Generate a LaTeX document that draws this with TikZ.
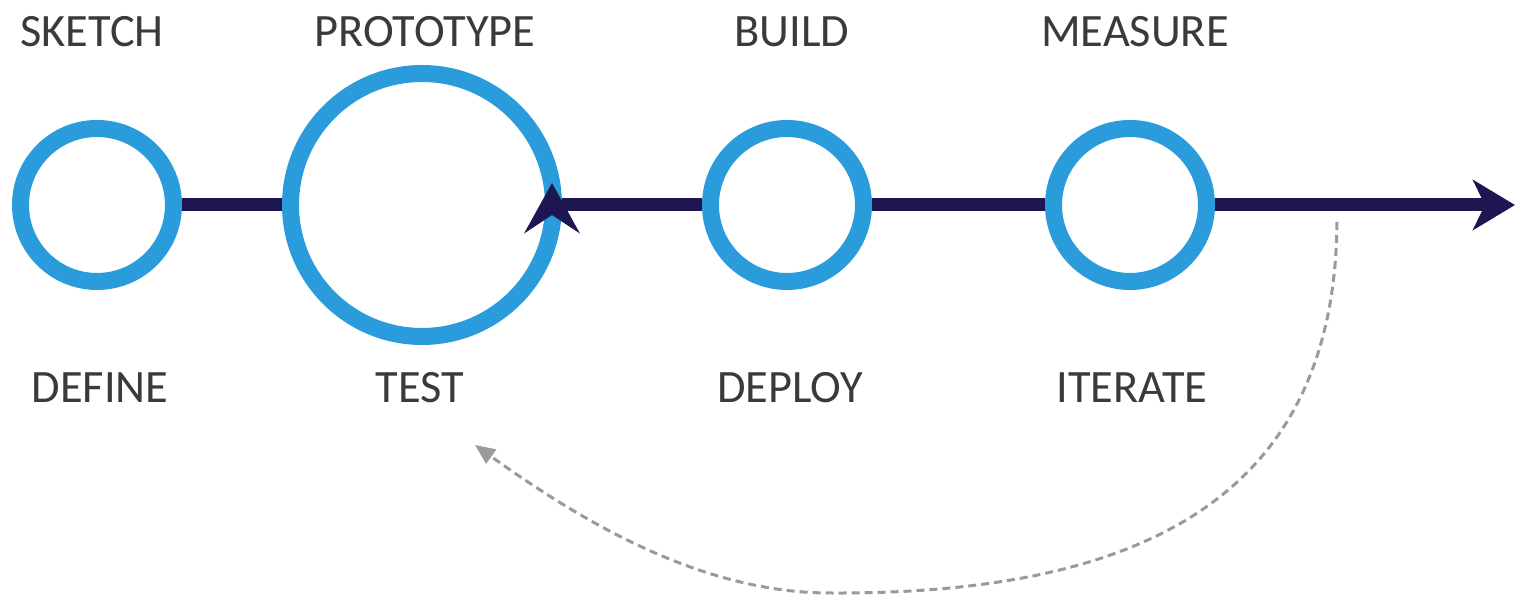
\documentclass[tikz,border=0pt]{standalone}
\usepackage{fontspec}
\setmainfont{Carlito}
\usetikzlibrary{positioning,arrows.meta}

\definecolor{ringblue}{HTML}{2A9BDB}
\definecolor{navy}{HTML}{1E1650}
\definecolor{txtgray}{HTML}{3A3A3A}
\definecolor{dashgray}{HTML}{9A9A9A}

\begin{document}
\begin{tikzpicture}[
    ring/.style={draw=ringblue, fill=white, circle, line width=0.17cm, inner sep=0pt, outer sep=0.085cm},
    small/.style={ring, minimum size=1.53cm},
    big/.style={ring, minimum size=2.63cm},
    mainline/.style={draw=navy, line width=0.13cm},
    lbl/.style={text=txtgray, font=\fontsize{13.2}{15}\selectfont, inner sep=0pt},
    loopback/.style={draw=dashgray, line width=0.03cm, dash pattern=on 0.08cm off 0.05cm}
  ]
  \useasboundingbox (0,0) rectangle (15.29,5.98);

  % stages
  \node[small] (define)  at (0.97,3.93) {};
  \node[big]   (proto)   at (4.22,3.93) {};
  \node[small] (build)   at (7.87,3.93) {};
  \node[small] (measure) at (11.30,3.93) {};
  \coordinate (end) at (15.15,3.93);

  \draw[mainline] (define) -- (proto);
  \draw[mainline] (proto) -- (build);
  \draw[mainline] (build) -- (measure);
  \draw[mainline, -{Stealth[length=0.42cm, width=0.5cm, inset=0.12cm]}] (measure) -- (end);

  % arrow tip riding on the prototype ring
  \draw[draw=ringblue, line width=0.17cm, -{Stealth[navy, length=0.5cm, width=0.55cm, inset=0.18cm]}]
    ([yshift=-0.1cm]proto.center -| 5.52,0) -- ([yshift=0.22cm]proto.center -| 5.52,0);

  % labels
  \node[lbl] (sketch)    at (0.92,5.66)  {SKETCH};
  \node[lbl] (prototype) at (4.25,5.66)  {PROTOTYPE};
  \node[lbl] (buildlbl)  at (7.92,5.66)  {BUILD};
  \node[lbl] (measlbl)   at (11.35,5.66) {MEASURE};
  \node[lbl] (deflbl)    at (1.00,2.10)  {DEFINE};
  \node[lbl] (test)      at (4.20,2.10)  {TEST};
  \node[lbl] (deploy)    at (7.90,2.10)  {DEPLOY};
  \node[lbl] (iterate)   at (11.32,2.10) {ITERATE};

  % loop back
  \coordinate (lstart) at (13.37,3.76);
  \coordinate (lbottom) at (8.30,0.05);
  \coordinate (ltip) at (4.75,1.53);
  \draw[loopback, -{Triangle[length=0.2cm, width=0.17cm]}]
    (lstart) .. controls (13.35,1.28) and (11.80,0.03) .. (lbottom)
             .. controls (7.00,0.05) and (5.80,0.78) .. (ltip);
\end{tikzpicture}
\end{document}
